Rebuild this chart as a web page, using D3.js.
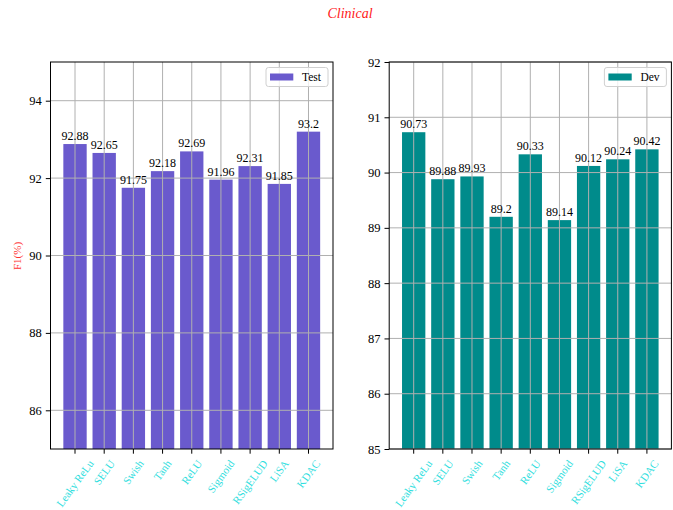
<!DOCTYPE html>
<html>
<head>
<meta charset="utf-8">
<script src="https://cdn.jsdelivr.net/npm/d3@7"></script>
<style>
body{margin:0;background:#fff;}
text{font-family:"Liberation Serif","Times New Roman",serif;}
</style>
</head>
<body>
<div id="chart-area"></div>
<script>
// data
var names=["Leaky ReLu","SELU","Swish","Tanh","ReLU","Sigmoid","RSigELUD","LiSA","KDAC"];
var testVals=[92.88,92.65,91.75,92.18,92.69,91.96,92.31,91.85,93.2];
var devVals=[90.73,89.88,89.93,89.2,90.33,89.14,90.12,90.24,90.42];
var testTicks=[86,88,90,92,94];
var devTicks=[85,86,87,88,89,90,91,92];

var W=673,H=510;
var svg=d3.select("#chart-area").append("svg").attr("width",W).attr("height",H);

// title
svg.append("text").attr("x",350).attr("y",18)
   .attr("text-anchor","middle").style("font-size","14px").style("font-style","italic")
   .attr("fill","#ff2020").text("Clinical");

// y label
svg.append("text").attr("transform","translate(21,256) rotate(-90)")
   .attr("text-anchor","middle").style("font-size","11px").attr("fill","#ff3030").text("F1(%)");

var rot=54, rad=rot*Math.PI/180;

function panel(left,right,vals,domain,ticks,color,legendText){
  var top=62,bottom=449;
  var x=d3.scaleLinear().domain([-0.84,8.84]).range([left,right]);
  var y=d3.scaleLinear().domain(domain).range([bottom,top]);
  var g=svg.append("g");

  // bars
  g.selectAll("rect.bar").data(vals).enter().append("rect").attr("class","bar")
   .attr("x",function(d,i){return x(i-0.4);})
   .attr("width",x(0.8)-x(0))
   .attr("y",function(d){return y(d);})
   .attr("height",function(d){return bottom-y(d);})
   .attr("fill",color);

  // grid on top
  g.selectAll("line.hg").data(ticks).enter().append("line")
   .attr("x1",left).attr("x2",right)
   .attr("y1",function(d){return y(d);}).attr("y2",function(d){return y(d);})
   .attr("stroke","#b0b0b0").attr("stroke-width",1);
  g.selectAll("line.vg").data(names).enter().append("line")
   .attr("y1",top).attr("y2",bottom)
   .attr("x1",function(d,i){return x(i);}).attr("x2",function(d,i){return x(i);})
   .attr("stroke","#b0b0b0").attr("stroke-width",1);

  // value labels
  g.selectAll("text.val").data(vals).enter().append("text")
   .attr("x",function(d,i){return x(i);})
   .attr("y",function(d){return y(d)-4;})
   .attr("text-anchor","middle").style("font-size","12px").attr("fill","#000")
   .text(function(d){return d;});

  // axes
  var yAxis=d3.axisLeft(y).tickValues(ticks).tickSize(4.7).tickPadding(4).tickFormat(d3.format("d"));
  var ya=g.append("g").attr("transform","translate("+left+",0)").call(yAxis);
  ya.select(".domain").remove();
  ya.selectAll("text").style("font-size","12.5px").attr("fill","#000")
    .style("font-family","Liberation Serif, serif");

  var xa=g.append("g");
  names.forEach(function(n,i){
    xa.append("line").attr("x1",x(i)).attr("x2",x(i)).attr("y1",bottom).attr("y2",bottom+4.7)
      .attr("stroke","#000");
    var t=xa.append("text").style("font-size","11px").attr("fill","#2fdede")
      .attr("text-anchor","end").attr("dominant-baseline","middle").text(n);
    var L=t.node().getComputedTextLength();
    var ax=x(i)+0.5*L*Math.cos(rad)+1, ay=bottom+13;
    t.attr("transform","translate("+ax+","+ay+") rotate("+(-rot)+")");
  });

  // frame
  g.append("rect").attr("x",left).attr("y",top).attr("width",right-left).attr("height",bottom-top)
   .attr("fill","none").attr("stroke","#000").attr("stroke-width",1);

  // legend
  var lg=g.append("g").attr("transform","translate("+(right-67)+","+(top+5.5)+")");
  lg.append("rect").attr("width",62).attr("height",19).attr("rx",2.5)
    .attr("fill","#fff").attr("fill-opacity",0.8).attr("stroke","#d0d0d0");
  lg.append("rect").attr("x",4).attr("y",6).attr("width",23.3).attr("height",7).attr("fill",color);
  lg.append("text").attr("x",36).attr("y",13.5).style("font-size","11.5px").text(legendText);
}

panel(50.5,333,testVals,[85,95],testTicks,"#6a5acd","Test");
panel(389.2,671.4,devVals,[85,92],devTicks,"#008b8b","Dev");
</script>
</body>
</html>
